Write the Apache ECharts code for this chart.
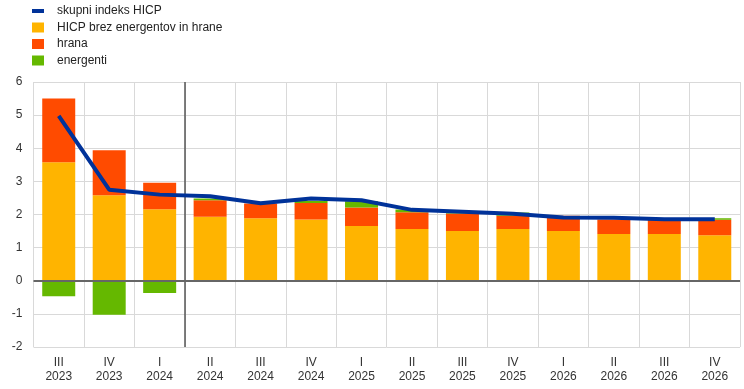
<!DOCTYPE html>
<html>
<head>
<meta charset="utf-8">
<script src="https://cdn.jsdelivr.net/npm/echarts@6/dist/echarts.min.js"></script>
<style>
html,body{margin:0;padding:0;background:#fff;}
#c{width:744px;height:389px;}
</style>
</head>
<body>
<div id="c"></div>
<script>
const quarters = ['III','IV','I','II','III','IV','I','II','III','IV','I','II','III','IV'];
const years = ['2023','2023','2024','2024','2024','2024','2025','2025','2025','2025','2026','2026','2026','2026'];
const categories = quarters.map((q, i) => q + '\n' + years[i]);
const coreHICP = [3.58, 2.58, 2.16, 1.93, 1.89, 1.85, 1.65, 1.56, 1.50, 1.56, 1.50, 1.41, 1.41, 1.37];
const food = [1.92, 1.36, 0.80, 0.50, 0.44, 0.50, 0.56, 0.51, 0.53, 0.40, 0.46, 0.44, 0.44, 0.47];
const energy = [-0.47, -1.03, -0.37, 0.05, -0.03, 0.06, 0.19, 0.08, 0.02, 0.10, -0.03, -0.02, 0.01, 0.05];
const headline = [4.98, 2.75, 2.60, 2.55, 2.34, 2.48, 2.43, 2.14, 2.08, 2.02, 1.91, 1.90, 1.86, 1.86];
const names = ['skupni indeks HICP', 'HICP brez energentov in hrane', 'hrana', 'energenti'];
const projectionStart = 3;

const chart = echarts.init(document.getElementById('c'));
const font = 'Arial, "Liberation Sans", sans-serif';
chart.setOption({
  animation: false,
  textStyle: { fontFamily: font },
  legend: {
    orient: 'vertical', left: 27, top: 0, itemWidth: 12, itemHeight: 10, itemGap: 4.5,
    textStyle: { fontSize: 12, color: '#222', fontFamily: font, padding: [0, 0, 0, 8] },
    data: [
      { name: names[0], icon: 'path://M0,0H30V10H0Z' },
      { name: names[1], icon: 'rect' },
      { name: names[2], icon: 'rect' },
      { name: names[3], icon: 'rect' }
    ]
  },
  grid: { left: 33.5, right: 4, top: 82, bottom: 42 },
  xAxis: [{
    type: 'category', data: categories,
    axisLine: { show: false }, axisTick: { show: false },
    axisLabel: { color: '#333', fontSize: 12, lineHeight: 14, margin: 9, fontFamily: font },
    splitLine: { show: true, lineStyle: { color: '#d9d9d9', width: 1 } }
  }, {
    type: 'value', min: 0, max: 14, show: false
  }],
  yAxis: {
    type: 'value', min: -2, max: 6, interval: 1,
    axisLine: { show: false }, axisTick: { show: false },
    axisLabel: { color: '#333', fontSize: 12, margin: 11, fontFamily: font },
    splitLine: { lineStyle: { color: '#d9d9d9', width: 1 } }
  },
  series: [
    { name: names[1], type: 'bar', stack: 's', data: coreHICP, barWidth: 33, itemStyle: { color: '#FFB400' } },
    { name: names[2], type: 'bar', stack: 's', data: food, barWidth: 33, itemStyle: { color: '#FF4B00' } },
    { name: names[3], type: 'bar', stack: 's', data: energy, barWidth: 33, itemStyle: { color: '#65B800' } },
    { name: names[0], type: 'line', data: headline, symbol: 'none', z: 5,
      lineStyle: { color: '#003299', width: 4 }, itemStyle: { color: '#003299' } },
    { type: 'scatter', xAxisIndex: 1, data: [[projectionStart, 0]], symbolSize: 0, silent: true,
      markLine: {
        silent: true, symbol: 'none', label: { show: false },
        data: [
          { xAxis: projectionStart, lineStyle: { color: '#555', width: 1.5, type: 'solid' } },
          { yAxis: 0, lineStyle: { color: '#666', width: 2, type: 'solid' } }
        ]
      }
    }
  ]
});
</script>
</body>
</html>
